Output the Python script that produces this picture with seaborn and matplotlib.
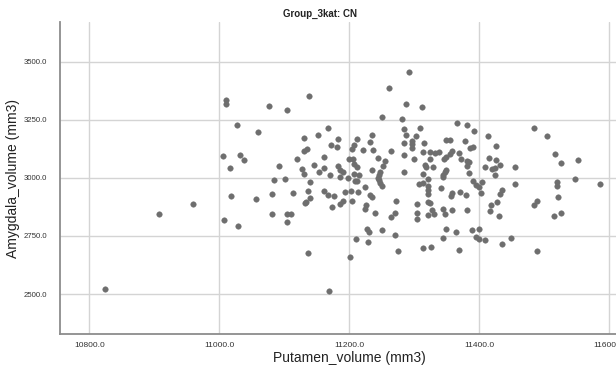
import matplotlib
matplotlib.use("Agg")
import matplotlib.pyplot as plt
import seaborn as sns
import pandas as pd
from matplotlib.ticker import FormatStrFormatter, FixedLocator

# Putamen and amygdala volumes (mm3) for the CN group
putamen_volume = [
    10825, 10908,
    11010, 11010, 11077, 11104, 11028, 11060, 11006, 11032, 11038, 11120,
    11016, 11092, 10959, 11018, 11007, 11029, 11057, 11081, 11085, 11101,
    11081, 11113, 11105, 11111, 11105,
    11293, 11261, 11139, 11288, 11251, 11282, 11168, 11152, 11131, 11285,
    11236, 11288, 11303, 11183, 11213, 11232, 11297, 11297, 11285, 11172,
    11181, 11207, 11205, 11131, 11135, 11222, 11237, 11265, 11297, 11162,
    11245, 11284, 11200, 11206, 11255, 11300, 11146, 11162, 11127, 11130,
    11183, 11186, 11190, 11208, 11212, 11252, 11235, 11248, 11246, 11284,
    11207, 11215, 11153, 11170, 11186, 11199, 11245,
    11246, 11248, 11250, 11209, 11213, 11140, 11224, 11137, 11162, 11168,
    11177, 11194, 11203, 11214, 11140, 11134, 11132, 11191, 11186, 11205,
    11174, 11232, 11236, 11226, 11224, 11240, 11273, 11271, 11264, 11305,
    11305, 11304, 11227, 11230, 11250, 11211, 11229, 11270, 11137, 11201,
    11275, 11169, 11308,
    11313, 11366, 11381, 11393, 11310, 11414, 11484, 11504, 11316, 11349,
    11356, 11378, 11426, 11386, 11391, 11314, 11325, 11332, 11339, 11358,
    11355, 11370, 11349, 11346, 11324, 11373, 11382, 11385, 11416, 11426,
    11517, 11527, 11553, 11317, 11319, 11329, 11381, 11410, 11420, 11425,
    11432, 11455, 11350, 11348, 11345, 11344, 11384, 11314, 11424, 11548,
    11314, 11322, 11391, 11404, 11396, 11400, 11455, 11520, 11520, 11586,
    11322, 11342,
    11322, 11321, 11359, 11357, 11371, 11380, 11403, 11435, 11432, 11522,
    11321, 11325, 11418, 11428, 11490, 11485, 11344, 11348, 11358, 11328,
    11331, 11322, 11382, 11417, 11431, 11516, 11527, 11350, 11365, 11390,
    11400, 11344, 11395, 11400, 11409, 11449, 11435, 11314, 11326, 11370,
    11489,
]

amygdala_volume = [
    2523, 2843,
    3336, 3317, 3307, 3291, 3225, 3198, 3092, 3096, 3077, 3082,
    3040, 3052, 2888, 2920, 2819, 2791, 2910, 2930, 2990, 2993,
    2843, 2934, 2843, 2843, 2810,
    3455, 3386, 3351, 3316, 3260, 3252, 3212, 3186, 3172, 3211,
    3185, 3184, 3179, 3168, 3168, 3154, 3157, 3144, 3151, 3142,
    3132, 3141, 3122, 3116, 3123, 3120, 3118, 3115, 3129, 3090,
    3086, 3099, 3079, 3081, 3073, 3080, 3053, 3040, 3037, 3016,
    3050, 3033, 3026, 3058, 3046, 3050, 3033, 3023, 3012, 3026,
    3016, 3010, 3023, 3012, 3002, 2999, 3000,
    2990, 2976, 2966, 2987, 2985, 2983, 2961, 2942, 2944, 2927,
    2921, 2937, 2943, 2940, 2911, 2896, 2890, 2901, 2886, 2901,
    2874, 2924, 2918, 2883, 2864, 2848, 2900, 2850, 2831, 2887,
    2850, 2821, 2778, 2768, 2774, 2735, 2725, 2752, 2676, 2659,
    2685, 2513, 2973,
    3305, 3234, 3225, 3202, 3212, 3179, 3212, 3178, 3149, 3163,
    3161, 3158, 3138, 3126, 3133, 3109, 3109, 3105, 3112, 3115,
    3103, 3106, 3090, 3082, 3082, 3080, 3071, 3066, 3085, 3076,
    3102, 3062, 3075, 3053, 3046, 3047, 3050, 3046, 3039, 3043,
    3053, 3047, 3033, 3023, 3013, 3003, 3019, 3016, 3010, 2993,
    2979, 2993, 2986, 2983, 2969, 2959, 2973, 2983, 2964, 2973,
    2964, 2956,
    2947, 2932, 2933, 2921, 2937, 2924, 2933, 2947, 2930, 2918,
    2896, 2893, 2883, 2897, 2901, 2883, 2864, 2843, 2861, 2861,
    2846, 2840, 2861, 2856, 2835, 2837, 2847, 2778, 2765, 2774,
    2779, 2741, 2746, 2738, 2732, 2742, 2714, 2696, 2703, 2689,
    2685,
]

x_ticks = [10800.0, 11000.0, 11200.0, 11400.0, 11600.0]
y_ticks = [2500.0, 2750.0, 3000.0, 3250.0, 3500.0]

df = pd.DataFrame({"Putamen_volume (mm3)": putamen_volume,
                   "Amygdala_volume (mm3)": amygdala_volume})

sns.set_theme(style="white")
plt.rcParams["font.family"] = ["Liberation Sans", "DejaVu Sans"]

W, H = 616, 372
fig = plt.figure(figsize=(W / 100, H / 100), dpi=100)
fig.patch.set_facecolor("white")

left, right, top, bottom = 60, 616, 22, 334
ax = fig.add_axes([left / W, 1 - bottom / H, (right - left) / W, (bottom - top) / H])
ax.set_facecolor("white")

sns.scatterplot(data=df, x="Putamen_volume (mm3)", y="Amygdala_volume (mm3)",
                ax=ax, color="#6e6e6e", s=16, linewidth=0.3,
                edgecolor="#6e6e6e", zorder=3)

ax.set_xlim(10755, 11611)
ax.set_ylim(2328, 3670)
ax.xaxis.set_major_locator(FixedLocator(x_ticks))
ax.yaxis.set_major_locator(FixedLocator(y_ticks))
ax.xaxis.set_major_formatter(FormatStrFormatter("%.1f"))
ax.yaxis.set_major_formatter(FormatStrFormatter("%.1f"))

ax.grid(True, color="#d4d4d4", linewidth=1.0, zorder=0)
ax.set_axisbelow(True)

for side in ("top", "right"):
    ax.spines[side].set_visible(False)
for side in ("left", "bottom"):
    ax.spines[side].set_color("#8c8c8c")
    ax.spines[side].set_linewidth(1.3)

ax.tick_params(axis="both", length=0, colors="#333333")
ax.tick_params(axis="x", pad=6, labelsize=6)
ax.tick_params(axis="y", pad=9, labelsize=5.6)

ax.set_xlabel("Putamen_volume (mm3)", fontsize=10, color="#222222")
ax.xaxis.set_label_coords((349 - left) / (right - left), -0.055)
ax.set_ylabel("Amygdala_volume (mm3)", fontsize=10, color="#222222")
ax.yaxis.label.set_va("center")
ax.yaxis.set_label_coords((13 - left) / (right - left), 0.5)

fig.text(320 / W, 1 - 14 / H, "Group_3kat: CN", ha="center", va="center",
         fontsize=7, fontweight="bold", color="#222222",
         family=["Liberation Sans Narrow", "Liberation Sans", "DejaVu Sans"])

fig.savefig("out.png", dpi=100)
